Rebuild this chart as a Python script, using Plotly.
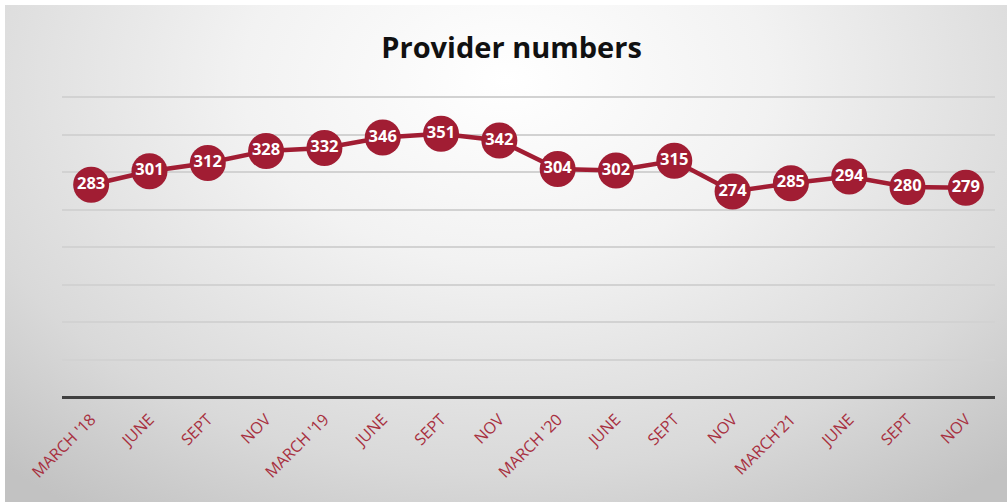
import base64
import plotly.graph_objects as go

categories = ["MARCH '18", "JUNE", "SEPT", "NOV", "MARCH '19", "JUNE", "SEPT", "NOV",
              "MARCH '20", "JUNE", "SEPT", "NOV", "MARCH'21", "JUNE", "SEPT", "NOV"]
providers = [283, 301, 312, 328, 332, 346, 351, 342, 304, 302, 315, 274, 285, 294, 280, 279]
title_text = "Provider numbers"

x_idx = list(range(len(categories)))

W, H = 1007, 502
svg = f'''<svg xmlns="http://www.w3.org/2000/svg" width="{W}" height="{H}" viewBox="0 0 {W} {H}" preserveAspectRatio="none">
<defs>
<radialGradient id="g" cx="0.5" cy="0.15" r="0.75" gradientTransform="translate(0.5 0.15) scale(1 1.4) translate(-0.5 -0.15)">
<stop offset="0" stop-color="#ffffff"/>
<stop offset="0.35" stop-color="#f2f2f2"/>
<stop offset="0.75" stop-color="#d9d9d9"/>
<stop offset="1" stop-color="#c2c2c2"/>
</radialGradient>
</defs>
<rect x="0" y="0" width="{W}" height="{H}" fill="url(#g)"/>
</svg>'''
src = "data:image/svg+xml;base64," + base64.b64encode(svg.encode()).decode()

red = "#a11d33"
plot_h = 303

fig = go.Figure()
fig.add_trace(go.Scatter(
    x=x_idx, y=providers, mode="lines+markers+text",
    line=dict(color=red, width=4.5),
    marker=dict(size=36, color=red, line=dict(width=0)),
    text=[str(v) for v in providers], textposition="middle center",
    textfont=dict(family="Open Sans, sans-serif", size=16.5, color="white", weight="bold"),
    cliponaxis=False, hoverinfo="skip",
))

fig.update_layout(
    width=W, height=H,
    margin=dict(l=62, r=12, t=94, b=105, autoexpand=False),
    paper_bgcolor="white", plot_bgcolor="rgba(0,0,0,0)",
    showlegend=False,
    title=dict(text=title_text, x=0.508, xanchor="center", y=0.905, yanchor="middle",
               font=dict(family="Open Sans, sans-serif", size=29, color="#111111", weight="bold")),
    images=[dict(source=src, xref="paper", yref="paper", x=-57/933, y=1 + (94-5)/plot_h,
                 sizex=(1007-5)/933, sizey=(502-5)/plot_h, xanchor="left", yanchor="top",
                 sizing="stretch", layer="below")],
    xaxis=dict(range=[-0.5, 15.5], tickmode="array", tickvals=x_idx, ticktext=categories,
               tickangle=-45, ticklabelstandoff=9,
               tickfont=dict(family="Open Sans, sans-serif", size=16, color="#a8303f"),
               showgrid=False, zeroline=False, showline=False, ticks="", fixedrange=True),
    yaxis=dict(range=[0, 404], tickmode="array", tickvals=[50, 100, 150, 200, 250, 300, 350, 400],
               showticklabels=False, showgrid=True,
               gridcolor="#d2d2d2", gridwidth=1.5, zeroline=True, zerolinecolor="#404040",
               zerolinewidth=3, showline=False, ticks="", fixedrange=True),
)

fig.write_html("out.html", config={"displayModeBar": False},
               post_script="document.body.style.margin='0';document.body.style.padding='0';")
